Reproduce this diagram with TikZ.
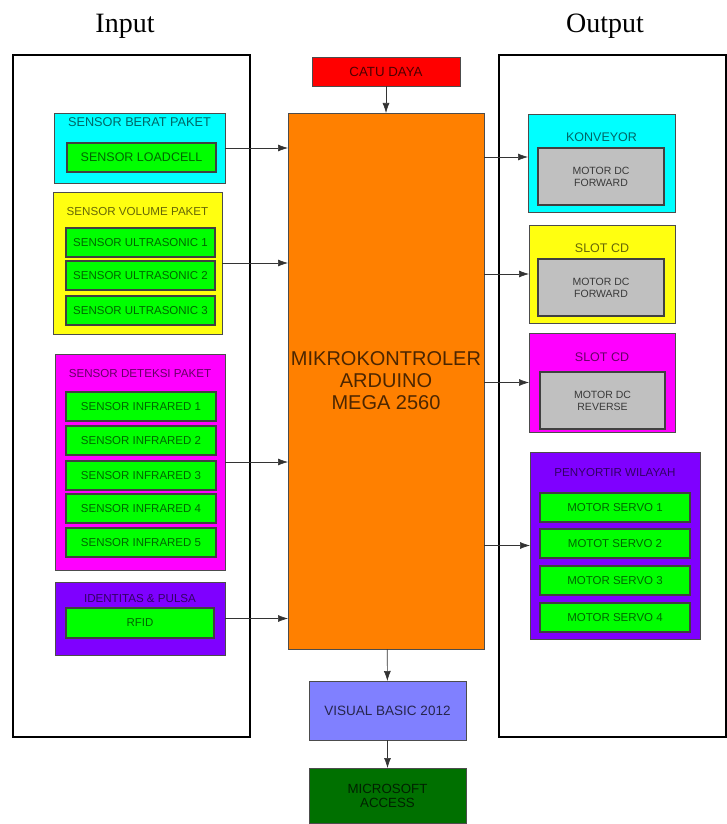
\documentclass[tikz,border=0pt]{standalone}
\usepackage{fontspec}
\setmainfont{Liberation Serif}
\setsansfont{Liberation Sans}
\usetikzlibrary{arrows.meta,positioning,calc}
\definecolor{cyanbox}{HTML}{00FFFF}
\definecolor{yellowbox}{HTML}{FFFF10}
\definecolor{magentabox}{HTML}{FF00FF}
\definecolor{purplebox}{HTML}{7F00FF}
\definecolor{greenbox}{HTML}{00FF00}
\definecolor{graybox}{HTML}{C0C0C0}
\definecolor{orangebox}{HTML}{FF8000}
\definecolor{redbox}{HTML}{FF0000}
\definecolor{vbbox}{HTML}{8080FF}
\definecolor{accbox}{HTML}{007000}
\tikzset{
  wh/.style 2 args={minimum width=#1pt, minimum height=#2pt},
  grp/.style={draw=black!70, line width=0.8pt, inner sep=0pt, outer sep=0pt},
  ttl/.style={font=\sffamily\fontsize{11.6}{14}\selectfont, text=black, text opacity=0.6, inner sep=0pt},
  sens/.style={draw=black!75, line width=1.2pt, fill=greenbox, inner sep=0pt, outer sep=0pt,
               font=\sffamily\fontsize{11.5}{14}\selectfont, text=black, text opacity=0.6},
  motor/.style={draw=black!75, line width=1.2pt, fill=graybox, inner sep=0pt, outer sep=0pt, align=center,
                font=\sffamily\fontsize{10.5}{12}\selectfont, text=black, text opacity=0.7},
  core/.style={draw=black!70, line width=0.8pt, inner sep=0pt, outer sep=0pt, align=center,
               font=\sffamily\fontsize{13.3}{14}\selectfont, text=black, text opacity=0.7},
  frame/.style={draw=black, line width=2pt},
  arr/.style={-{Latex[length=10pt,width=7pt]}, draw=black!80, line width=0.6pt},
}
\begin{document}
\begin{tikzpicture}[x=1pt, y=-1pt]
  \useasboundingbox (0,0) rectangle (727,824);
  % headings and frames
  \node[font=\fontsize{28}{32}\selectfont] (inLbl) at (125,26) {Input};
  \node[font=\fontsize{28}{32}\selectfont] (outLbl) at (605,26) {Output};
  \draw[frame] (13,55) rectangle (250,737);
  \draw[frame] (499,55) rectangle (726,737);

  % input side
  \node[grp, fill=cyanbox, wh={171}{70}] (berat) at (139.5,148) {};
  \node[ttl, font=\sffamily\fontsize{12.7}{14}\selectfont] (beratT) at (139.5,122) {SENSOR BERAT PAKET};
  \node[sens, wh={149}{29}, font=\sffamily\fontsize{12.5}{14}\selectfont] (loadcell) at (141.5,157.5) {SENSOR LOADCELL};

  \node[grp, fill=yellowbox, wh={169}{142}] (volume) at (137.5,263) {};
  \node[ttl] (volumeT) at (137.5,212) {SENSOR VOLUME PAKET};
  \foreach \i/\y in {1/242.5, 2/275.5, 3/310.5}
    \node[sens, wh={149}{29}] (us\i) at (140.5,\y) {SENSOR ULTRASONIC \i};

  \node[grp, fill=magentabox, wh={170}{216}] (deteksi) at (140,462) {};
  \node[ttl] (deteksiT) at (140,374) {SENSOR DETEKSI PAKET};
  \foreach \i/\y in {1/406.5, 2/440.5, 3/475.5, 4/508.5, 5/542.5}
    \node[sens, wh={150}{29}] (ir\i) at (141,\y) {SENSOR INFRARED \i};

  \node[grp, fill=purplebox, wh={170}{73}] (identitas) at (140,618.5) {};
  \node[ttl] (identitasT) at (140,599) {IDENTITAS \& PULSA};
  \node[sens, wh={148}{30}] (rfid) at (140,623) {RFID};

  % centre column
  \node[core, fill=redbox, wh={148}{29}] (catu) at (386,71.5) {CATU DAYA};
  \node[core, fill=orangebox, wh={196}{536}, font=\sffamily\fontsize{20}{22}\selectfont] (mcu) at (386,381)
       {MIKROKONTROLER\\ARDUINO\\MEGA 2560};
  \node[core, fill=vbbox, wh={157}{59}, font=\sffamily\fontsize{13.5}{14}\selectfont] (vb) at (387.5,710.5) {VISUAL BASIC 2012};
  \node[core, fill=accbox, wh={157}{55}] (access) at (387.5,795.5) {MICROSOFT\\ACCESS};

  % output side
  \node[grp, fill=cyanbox, wh={147}{98}] (konveyor) at (601.5,163) {};
  \node[ttl, font=\sffamily\fontsize{12.5}{14}\selectfont] (konveyorT) at (601.5,137) {KONVEYOR};
  \node[motor, wh={126}{57}] (mdc1) at (601,176.5) {MOTOR DC\\FORWARD};

  \node[grp, fill=yellowbox, wh={146}{98}] (slot1) at (602,274) {};
  \node[ttl, font=\sffamily\fontsize{12.5}{14}\selectfont] (slot1T) at (602,248) {SLOT CD};
  \node[motor, wh={126}{57}] (mdc2) at (601,287.5) {MOTOR DC\\FORWARD};

  \node[grp, fill=magentabox, wh={146}{99}] (slot2) at (602,382.5) {};
  \node[ttl, font=\sffamily\fontsize{12.5}{14}\selectfont] (slot2T) at (602,357) {SLOT CD};
  \node[motor, wh={125}{57}] (mdc3) at (602.5,400.5) {MOTOR DC\\REVERSE};

  \node[grp, fill=purplebox, wh={170}{187}] (wilayah) at (615,545.5) {};
  \node[ttl] (wilayahT) at (615,473) {PENYORTIR WILAYAH};
  \foreach \i/\y/\w in {1/507.5/MOTOR, 2/543.5/MOTOT, 3/580.5/MOTOR, 4/617.5/MOTOR}
    \node[sens, wh={150}{29}] (servo\i) at (615,\y) {\w{} SERVO \i};

  % connectors
  \foreach \n in {berat, volume, deteksi, identitas}
    \draw[arr] (\n.east) -- (\n.east -| mcu.west);
  \draw[arr] ([yshift=6pt]konveyor.west -| mcu.east) -- ([yshift=6pt]konveyor.west);
  \foreach \n in {slot1, slot2, wilayah}
    \draw[arr] (\n.west -| mcu.east) -- (\n.west);
  \draw[arr] (catu) -- (mcu);
  \draw[arr] (mcu) -- (vb);
  \draw[arr] (vb) -- (access);
\end{tikzpicture}
\end{document}
